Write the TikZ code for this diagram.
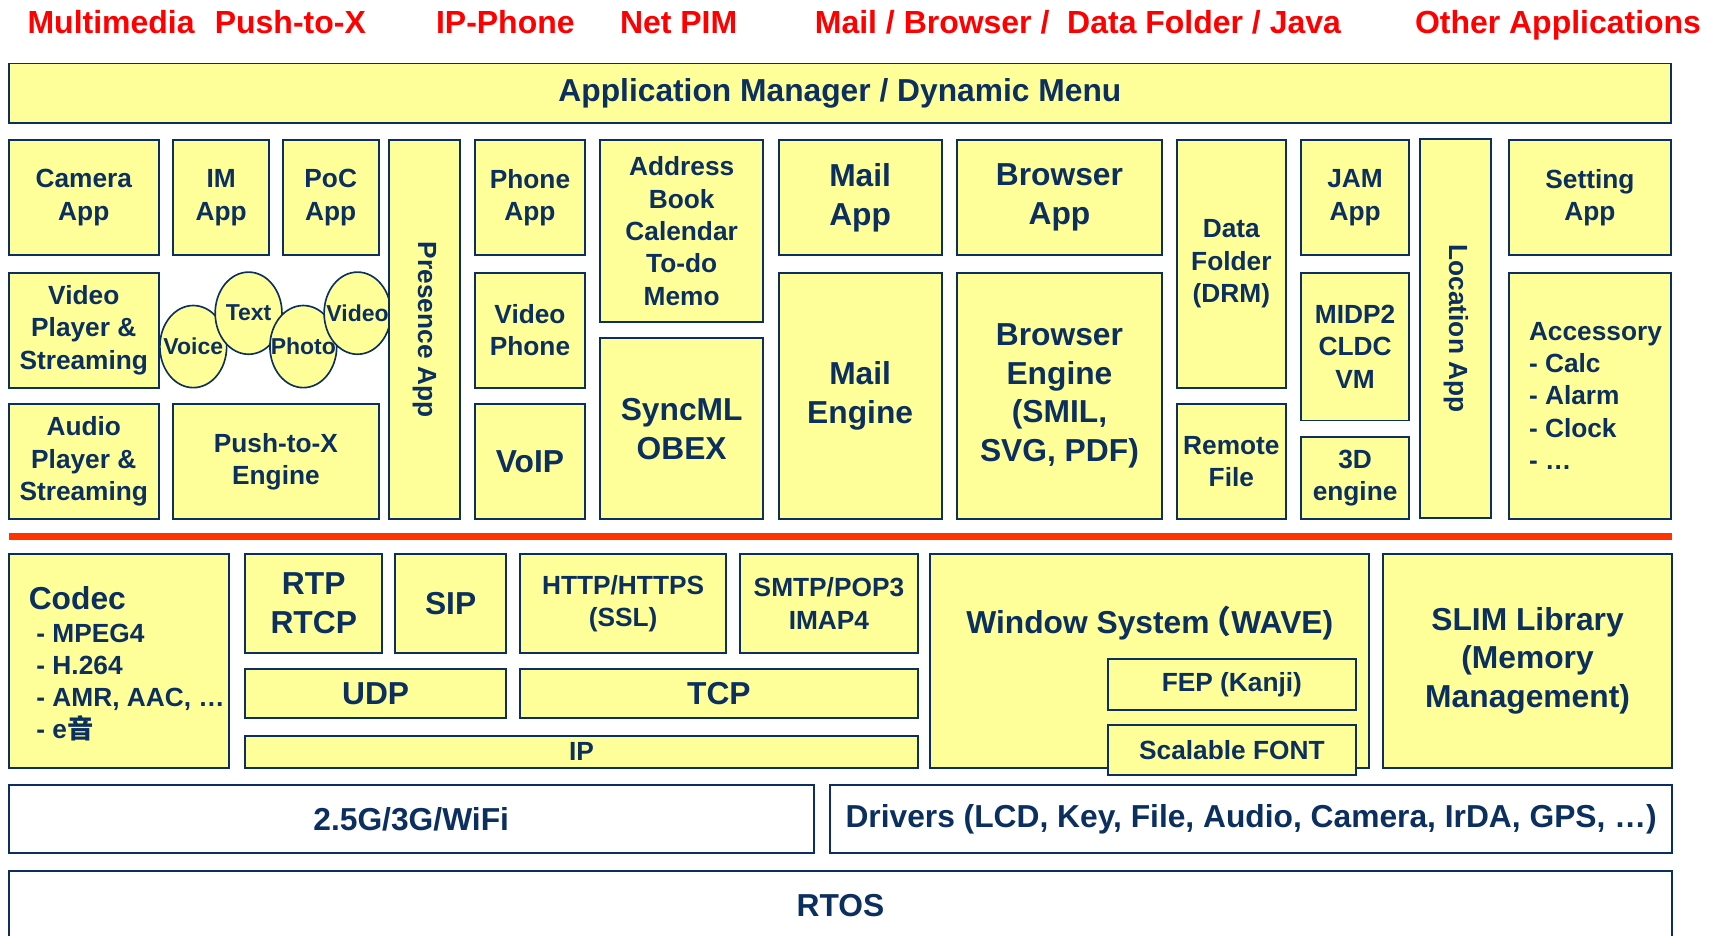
\documentclass[tikz,border=0pt]{standalone}
\usepackage{fontspec}
\setmainfont{Liberation Sans}
\newfontfamily\cjk{Noto Sans CJK SC}
\usepackage{tikz}
\usetikzlibrary{shapes,arrows}
\definecolor{navy}{HTML}{0B2F5E}
\definecolor{pale}{HTML}{FFFF99}
\definecolor{redtitle}{HTML}{FF0000}
\definecolor{redline}{HTML}{FF3300}
\newcommand{\boxfont}{\fontsize{24}{29.5}\selectfont\bfseries}
\newcommand{\bigboxfont}{\fontsize{29}{35.5}\selectfont\bfseries}
\tikzstyle{block} = [rectangle, draw=navy, fill=pale, line width=1.8pt,
text=navy, align=center, inner sep=0pt, font=\boxfont]
\tikzstyle{bigblock} = [block, font=\bigboxfont]
\tikzstyle{plain} = [block, fill=white, font=\bigboxfont]
\tikzstyle{caption} = [text=navy, inner sep=0pt, align=left, font=\bigboxfont]
\tikzstyle{bubble} = [ellipse, draw=navy, fill=pale, line width=1.5pt, text=navy,
inner sep=0pt, minimum width=61, minimum height=75, font=\fontsize{21}{25}\selectfont\bfseries]
\tikzstyle{heading} = [anchor=base west, inner sep=0pt, text=redtitle,
font=\fontsize{29.2}{34}\selectfont\bfseries]
\tikzstyle{sepline} = [draw=redline, line width=6pt]

\begin{document}
\begin{tikzpicture}[x=1pt, y=-1pt]
\useasboundingbox (0,0) rectangle (1568,854);

% Headings
\node [heading] (hmedia) at (25,31) {Multimedia};
\node [heading] (hptx) at (196,31) {Push-to-X};
\node [heading] (hphone) at (398,31) {IP-Phone};
\node [heading] (hpim) at (566,31) {Net PIM};
\node [heading] (hmail) at (744,31) {Mail / Browser /\ \ Data Folder / Java};
\node [heading] (hother) at (1292,31) {Other Applications};

% Application layer
\node [bigblock, minimum width=1518, minimum height=54] (appmgr) at (767,85) {Application Manager / Dynamic Menu};
\node [block, minimum width=137, minimum height=105] (camera) at (76.5,180.5) {Camera\\App};
\node [block, minimum width=88, minimum height=105] (im) at (202,180.5) {IM\\App};
\node [block, minimum width=88, minimum height=105] (poc) at (302,180.5) {PoC\\App};
\node [block, minimum width=100, minimum height=105] (phone) at (484,180.5) {Phone\\App};
\node [block, minimum width=149, minimum height=166] (address) at (622.5,211) {Address\\Book\\Calendar\\To-do\\Memo};
\node [bigblock, minimum width=149, minimum height=105] (mail) at (785.5,180.5) {Mail\\App};
\node [bigblock, minimum width=187, minimum height=105] (browser) at (967.5,180.5) {Browser\\App};
\node [block, minimum width=99, minimum height=226] (datafolder) at (1124.5,241) {Data\\Folder\\(DRM)};
\node [block, minimum width=99, minimum height=105] (jam) at (1237.5,180.5) {JAM\\App};
\node [block, rotate=-90, minimum width=346, minimum height=65] (location) at (1329.5,300) {Location App};
\node [block, minimum width=148, minimum height=105] (setting) at (1452,180.5) {Setting\\App};
\node [block, minimum width=137, minimum height=105] (videoplayer) at (76.5,301.5) {Video\\Player \&\\Streaming};
\node [block, minimum width=100, minimum height=105] (videophone) at (484,301.5) {Video\\Phone};
\node [bigblock, minimum width=149, minimum height=225] (mailengine) at (785.5,361.5) {Mail\\Engine};
\node [bigblock, minimum width=187, minimum height=225] (browserengine) at (967.5,361.5) {Browser\\Engine\\(SMIL,\\SVG, PDF)};
\node [block, minimum width=99, minimum height=135] (midp) at (1237.5,316.5) {MIDP2\\CLDC\\VM};
\node [block, minimum width=148, minimum height=225] (accessory) at (1452,361.5) {};
\node [caption, font=\boxfont, anchor=west] (accessorytext) at ([xshift=19pt]accessory.west) {Accessory\\- Calc\\- Alarm\\- Clock\\- …};
\node [block, minimum width=137, minimum height=105] (audioplayer) at (76.5,421.5) {Audio\\Player \&\\Streaming};
\node [block, minimum width=188, minimum height=105] (pushengine) at (252,421.5) {Push-to-X\\Engine};
\node [bigblock, minimum width=100, minimum height=105] (voip) at (484,421.5) {VoIP};
\node [bigblock, minimum width=149, minimum height=165] (syncml) at (622.5,391.5) {SyncML\\OBEX};
\node [block, minimum width=99, minimum height=105] (remote) at (1124.5,421.5) {Remote\\File};
\node [block, minimum width=99, minimum height=75] (threed) at (1237.5,436.5) {3D\\engine};
\node [bubble] (voice) at (176.5,316.5) {\makebox[0pt]{Voice}};
\node [bubble] (text) at (227,286) {\makebox[0pt]{Text}};
\node [bubble] (photo) at (277,316.5) {\makebox[0pt]{Photo}};
\node [bubble] (video) at (326.5,286) {\makebox[0pt]{Video}};
\node [block, rotate=-90, minimum width=346, minimum height=65] (presence) at (387.5,301) {Presence App};

% Separator
\draw [sepline] (8,490) -- (1527,490);

% Middleware layer
\node [block, minimum width=201, minimum height=195] (codec) at (108.5,603.5) {};
\node [caption, font=\boxfont, anchor=west] (codectext) at ([xshift=19pt, yshift=-3pt]codec.west) {{\bigboxfont Codec}\\\hspace*{7pt}- MPEG4\\\hspace*{7pt}- H.264\\\hspace*{7pt}- AMR, AAC, …\\\hspace*{7pt}- e{\cjk 音}};
\node [bigblock, minimum width=125, minimum height=90] (rtp) at (286.5,551) {RTP\\RTCP};
\node [bigblock, minimum width=101, minimum height=90] (sip) at (411.5,551) {SIP};
\node [block, minimum width=188, minimum height=90] (http) at (569,551) {HTTP/HTTPS\\(SSL)};
\node [block, minimum width=162, minimum height=90] (smtp) at (757,551) {SMTP/POP3\\IMAP4};
\node [bigblock, minimum width=238, minimum height=45] (udp) at (343,633.5) {UDP};
\node [bigblock, minimum width=363, minimum height=45] (tcp) at (656.5,633.5) {TCP};
\node [block, minimum width=614, minimum height=29] (ip) at (531,686.5) {IP};
\node [block, minimum width=401, minimum height=195] (window) at (1049.5,603.5) {};
\node [caption] (windowtext) at (1050,569) {Window System\kern-9pt{\cjk （}WAVE)};
\node [block, minimum width=226, minimum height=46] (fep) at (1125,625) {FEP (Kanji)};
\node [block, minimum width=226, minimum height=46] (scalable) at (1125,685) {Scalable FONT};
\node [bigblock, minimum width=264, minimum height=195] (slim) at (1395,603.5) {SLIM Library\\(Memory\\Management)};

% Platform layer
\node [plain, minimum width=735, minimum height=62] (network) at (375.5,748) {2.5G/3G/WiFi};
\node [plain, minimum width=769, minimum height=62] (drivers) at (1142.5,748) {Drivers (LCD, Key, File, Audio, Camera, IrDA, GPS, …)};
\node [plain, minimum width=1519, minimum height=64] (rtos) at (767.5,827) {RTOS};
\end{tikzpicture}
\end{document}
